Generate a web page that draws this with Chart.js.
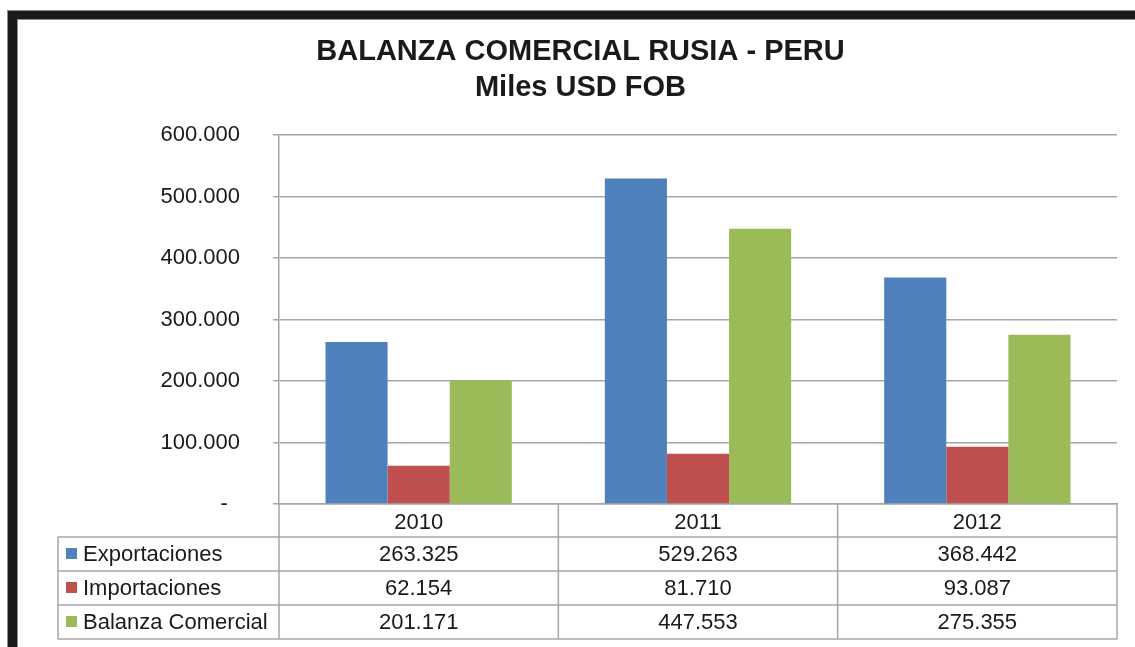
<!DOCTYPE html>
<html>
<head>
<meta charset="utf-8">
<script src="https://cdn.jsdelivr.net/npm/chart.js@4.4.1/dist/chart.umd.min.js"></script>
<style>
  body { margin: 0; background: #fff; }
  canvas { display: block; }
</style>
</head>
<body>
<canvas id="balanza" width="1135" height="647"></canvas>
<script>
// Años
var years = ["2010", "2011", "2012"];
// Valores en miles USD FOB
var exportaciones = [263325, 529263, 368442];
var importaciones = [62154, 81710, 93087];
var balanza = [201171, 447553, 275355];
// Nombres de las series
var seriesNames = ["Exportaciones", "Importaciones", "Balanza Comercial"];
var barColors = ["#4F81BD", "#C0504D", "#9BBB59"];
// Escala del eje Y
var yMax = 600000;
var yStep = 100000;

var textColor = "#1a1a1a";
var lineColor = "#a6a6a6";
var fontFamily = "'Liberation Sans', Arial, sans-serif";

// 263325 -> "263.325"
function fmt(v) {
  return String(v).replace(/\B(?=(\d{3})+(?!\d))/g, ".");
}

// marco negro (arriba e izquierda)
var framePlugin = {
  id: "frame",
  beforeDraw: function(chart) {
    var ctx = chart.ctx;
    ctx.save();
    ctx.fillStyle = "#fff";
    ctx.fillRect(0, 0, chart.width, chart.height);
    ctx.fillStyle = "#8c8c8c";
    ctx.fillRect(7, 10, chart.width - 7, 10);
    ctx.fillRect(7, 10, 11, chart.height - 10);
    ctx.fillStyle = "#1a1a1a";
    ctx.fillRect(8, 11, chart.width - 8, 8);
    ctx.fillRect(8, 11, 9, chart.height - 11);
    ctx.restore();
  }
};

// tabla de datos bajo el eje X
var tablePlugin = {
  id: "dataTable",
  afterDraw: function(chart) {
    var ctx = chart.ctx;
    var x = chart.scales.x;
    var area = chart.chartArea;
    var rows = [exportaciones, importaciones, balanza];
    var headH = 33, rowH = 34;
    var tableLeft = 58;
    var catW = (x.right - x.left) / years.length;
    var top = area.bottom + headH;
    var bottom = top + rowH * rows.length;

    ctx.save();
    ctx.strokeStyle = lineColor;
    ctx.lineWidth = 1.5;
    ctx.beginPath();
    // lineas horizontales
    for (var r = 0; r <= rows.length; r++) {
      var yy = top + r * rowH;
      ctx.moveTo(tableLeft, yy);
      ctx.lineTo(x.right, yy);
    }
    // lineas verticales
    ctx.moveTo(tableLeft, top);
    ctx.lineTo(tableLeft, bottom);
    for (var c = 0; c <= years.length; c++) {
      var xx = x.left + c * catW;
      ctx.moveTo(xx, area.bottom);
      ctx.lineTo(xx, bottom);
    }
    ctx.stroke();

    ctx.font = "22px " + fontFamily;
    ctx.textBaseline = "middle";
    for (var i = 0; i < rows.length; i++) {
      var cy = top + i * rowH + rowH / 2;
      ctx.fillStyle = barColors[i];
      ctx.fillRect(66, cy - 6, 11, 11);
      ctx.fillStyle = textColor;
      ctx.textAlign = "left";
      ctx.fillText(seriesNames[i], 83, cy + 1);
      ctx.textAlign = "center";
      for (var j = 0; j < years.length; j++) {
        ctx.fillText(fmt(rows[i][j]), x.getPixelForValue(j), cy + 1);
      }
    }
    ctx.restore();
  }
};

new Chart(document.getElementById("balanza"), {
  type: "bar",
  data: {
    labels: years,
    datasets: [
      { label: seriesNames[0], data: exportaciones, backgroundColor: barColors[0] },
      { label: seriesNames[1], data: importaciones, backgroundColor: barColors[1] },
      { label: seriesNames[2], data: balanza, backgroundColor: barColors[2] }
    ]
  },
  options: {
    responsive: false,
    animation: false,
    devicePixelRatio: 1,
    datasets: {
      bar: { categoryPercentage: 0.667, barPercentage: 1 }
    },
    layout: {
      padding: { top: 34, left: 44, right: 18, bottom: 8 }
    },
    plugins: {
      legend: { display: false },
      tooltip: { enabled: false },
      title: {
        display: true,
        text: ["BALANZA COMERCIAL RUSIA - PERU", "Miles USD FOB"],
        color: textColor,
        font: { family: fontFamily, size: 29, weight: "bold", lineHeight: 1.241 },
        padding: { top: 0, bottom: 29 }
      }
    },
    scales: {
      y: {
        min: 0,
        max: yMax,
        ticks: {
          stepSize: yStep,
          color: textColor,
          padding: 33,
          font: { family: fontFamily, size: 22 },
          callback: function(v) { return v === 0 ? "-  " : fmt(v); }
        },
        grid: { color: lineColor, lineWidth: 1.5, tickLength: 6 },
        border: { color: lineColor, width: 1.5 },
        afterFit: function(scale) { scale.width = 235; }
      },
      x: {
        ticks: {
          color: textColor,
          padding: 6,
          font: { family: fontFamily, size: 22 }
        },
        grid: { display: false, drawTicks: false },
        border: { color: lineColor, width: 1.5 },
        afterFit: function(scale) { scale.height = 135; }
      }
    }
  },
  plugins: [framePlugin, tablePlugin]
});
</script>
</body>
</html>
